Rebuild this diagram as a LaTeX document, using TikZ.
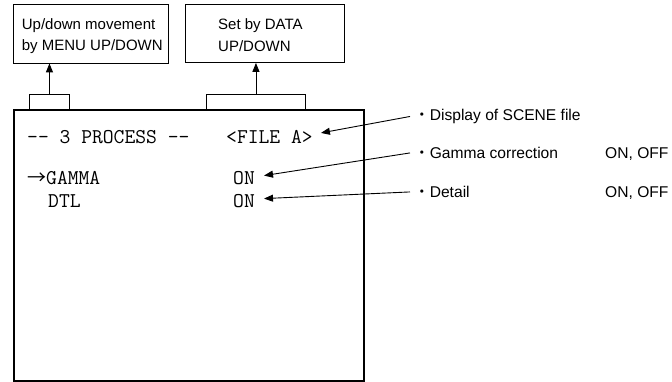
\documentclass[tikz,border=0pt]{standalone}
\usepackage{fontspec}
\setmainfont{Liberation Sans}
\newfontfamily\cjk{Noto Sans CJK JP}
\usetikzlibrary{arrows.meta}
\begin{document}
\begin{tikzpicture}[x=1pt,y=-1pt,
  lbl/.style={inner sep=0pt, font=\fontsize{15}{21.5}\selectfont, align=left},
  note/.style={inner ysep=0pt, inner xsep=4pt, font=\fontsize{15.6}{21}\selectfont, anchor=base west},
  scr/.style={inner sep=0pt, font=\ttfamily\fontsize{21}{25}\selectfont, anchor=base west},
  thinbox/.style={draw, line width=0.9pt, inner sep=0pt, anchor=north west},
  arr/.style={line width=0.9pt, -{Triangle[length=9pt,width=7pt]}}
]
\useasboundingbox (0,0) rectangle (672,381);

% top boxes
\node[thinbox, minimum width=155.5pt, minimum height=58.5pt] (boxL) at (12.7,4) {};
\node[thinbox, minimum width=159pt, minimum height=58pt] (boxR) at (185,4) {};
\node[lbl, anchor=west] (tL) at (21.7,36) {Up/down movement\\by MENU UP/DOWN};
\node[lbl, anchor=west] (tR) at (218,35) {Set by DATA\\UP/DOWN};

% tabs
\node[thinbox, minimum width=40pt, minimum height=15pt] (tabL) at (29,94) {};
\node[thinbox, minimum width=99pt, minimum height=15pt] (tabR) at (206,94) {};

% screen
\node[draw, line width=2pt, inner sep=0pt, anchor=north west, minimum width=350.5pt, minimum height=271pt] (screen) at (12.7,109) {};

\draw[arr] (tabL.north) -- (tabL.north |- boxL.south);
\draw[arr] (tabR.north) -- (tabR.north |- boxR.south);

% screen text
\node[scr] (title) at (27,143.5) {-{}- 3 PROCESS -{}-};
\node[scr] (fileA) at (226,143.5) {<FILE A>};
\node[scr] (gamma) at (27,184) {{\cjk\fontsize{19}{23}\selectfont →}GAMMA};
\node[scr] (gon) at (233,184) {ON};
\node[scr] (dtl) at (48,207) {DTL};
\node[scr] (don) at (233,207) {ON};

% notes
\node[note] (nA) at (410,120.5) {{\cjk ・}Display of SCENE file};
\node[note] (nB) at (410,158.5) {{\cjk ・}Gamma correction};
\node[note] (nC) at (410,197.5) {{\cjk ・}Detail};
\node[note] (oB) at (601,158.5) {ON, OFF};
\node[note] (oC) at (601,197.5) {ON, OFF};

\draw[arr] (nA.west) -- ([xshift=8pt,yshift=4pt]fileA.east);
\draw[arr] (nB.west) -- ([xshift=9pt,yshift=2pt]gon.east);
\draw[arr] (nC.west) -- ([xshift=9pt,yshift=2pt]don.east);
\end{tikzpicture}
\end{document}
